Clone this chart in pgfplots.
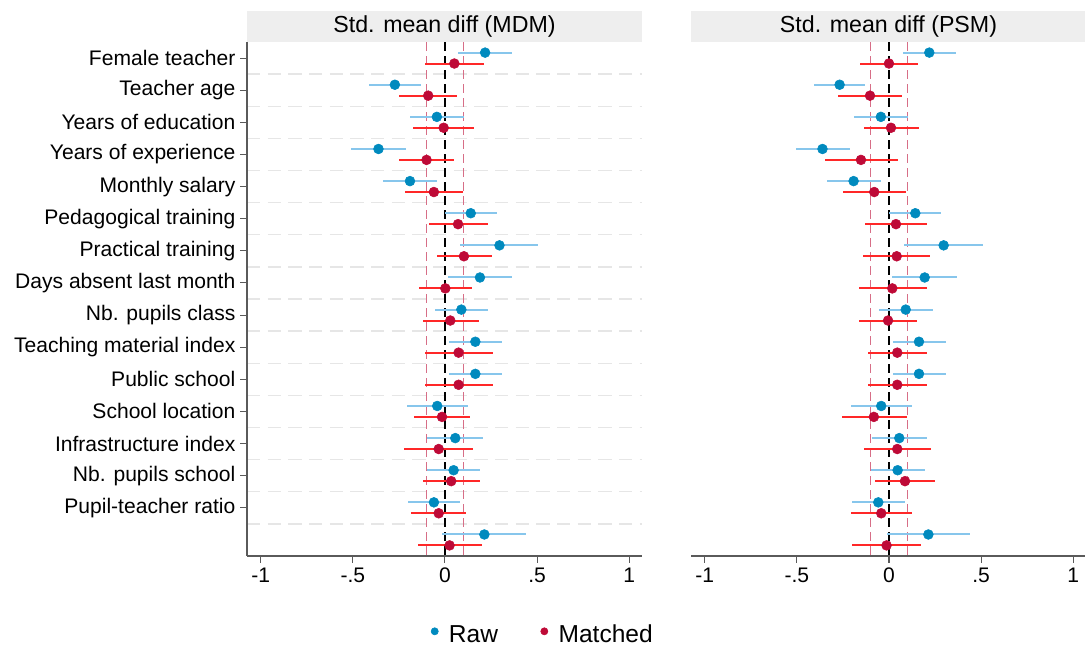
\documentclass[border=0pt]{standalone}
\usepackage{fontspec}
\setmainfont{Liberation Sans}
\usepackage{pgfplots}
\usepackage{pgfplotstable}
\pgfplotsset{compat=1.18}

\definecolor{rawdot}{RGB}{0,138,190}
\definecolor{rawci}{RGB}{135,198,236}
\definecolor{matdot}{RGB}{190,10,55}
\definecolor{matci}{RGB}{255,40,40}
\definecolor{refred}{RGB}{215,110,135}
\definecolor{sepgray}{RGB}{230,230,230}
\definecolor{stripgray}{RGB}{238,238,238}
\definecolor{axisgray}{RGB}{90,90,90}

% row, raw mean/lo/hi, matched mean/lo/hi
\pgfplotstableread{
row rm rlo rhi mm mlo mhi
1 0.218 0.073 0.363 0.051 -0.109 0.214
2 -0.272 -0.412 -0.132 -0.091 -0.248 0.067
3 -0.044 -0.190 0.103 -0.007 -0.172 0.158
4 -0.361 -0.508 -0.214 -0.100 -0.248 0.049
5 -0.190 -0.335 -0.045 -0.060 -0.216 0.100
6 0.140 0.000 0.283 0.071 -0.089 0.232
7 0.296 0.082 0.506 0.103 -0.045 0.254
8 0.190 0.018 0.366 0.002 -0.140 0.145
9 0.089 -0.056 0.236 0.029 -0.121 0.185
10 0.165 0.024 0.308 0.074 -0.107 0.259
11 0.165 0.024 0.308 0.074 -0.107 0.259
12 -0.042 -0.205 0.123 -0.016 -0.170 0.136
13 0.056 -0.096 0.209 -0.034 -0.221 0.150
14 0.047 -0.100 0.192 0.034 -0.118 0.189
15 -0.060 -0.203 0.083 -0.034 -0.185 0.112
16 0.214 -0.015 0.441 0.025 -0.147 0.201
}\mdm

\pgfplotstableread{
row rm rlo rhi mm mlo mhi
1 0.219 0.074 0.364 0.000 -0.156 0.160
2 -0.268 -0.408 -0.129 -0.103 -0.276 0.071
3 -0.044 -0.189 0.102 0.011 -0.138 0.161
4 -0.361 -0.506 -0.214 -0.152 -0.350 0.047
5 -0.192 -0.334 -0.044 -0.080 -0.252 0.091
6 0.143 0.000 0.283 0.038 -0.129 0.209
7 0.297 0.083 0.508 0.042 -0.141 0.223
8 0.194 0.018 0.368 0.018 -0.165 0.205
9 0.091 -0.054 0.238 -0.005 -0.161 0.154
10 0.163 0.024 0.308 0.045 -0.116 0.209
11 0.163 0.024 0.308 0.045 -0.116 0.209
12 -0.042 -0.205 0.123 -0.082 -0.257 0.098
13 0.056 -0.094 0.209 0.045 -0.138 0.230
14 0.047 -0.100 0.194 0.087 -0.076 0.248
15 -0.058 -0.201 0.085 -0.042 -0.207 0.125
16 0.214 -0.011 0.442 -0.013 -0.201 0.172
}\psm

\newcommand{\lblfont}{\fontsize{15.8}{18}\selectfont}
\newcommand{\ttlfont}{\fontsize{17.4}{20}\selectfont}
\newcommand{\lgdfont}{\fontsize{18.4}{21}\selectfont}

\pgfplotsset{
  panel/.style={
    width=296.25pt, height=385.5pt, scale only axis,
    xmin=-1.075, xmax=1.07, ymin=0.5, ymax=16.5, y dir=reverse,
    axis x line*=bottom,
    axis line style={-, draw=axisgray, line width=1pt},
    xtick={-1,-0.5,0,0.5,1},
    xticklabels={-1,-.5,0,.5,1},
    tick align=outside, major tick length=5.2pt,
    tick style={draw=axisgray, line width=0.8pt},
    ticklabel style={font=\lblfont},
    minor ytick={1.5,2.5,...,15.5},
    minor tick length=0pt,
    yminorgrids=true,
    minor grid style={draw=sepgray, line width=1.1pt, dash pattern=on 10pt off 5.5pt},
    clip=false,
  },
  rawplot/.style={only marks, mark=*, mark size=3.7pt, color=rawdot, forget plot,
    error bars/.cd, x dir=both, x explicit, error mark=none,
    error bar style={line width=1.5pt, rawci}},
  matplot/.style={only marks, mark=*, mark size=3.7pt, color=matdot, forget plot,
    error bars/.cd, x dir=both, x explicit, error mark=none,
    error bar style={line width=1.5pt, matci}},
}

\newcommand{\drawpanel}[1]{%
  \draw[refred, line width=0.9pt, dash pattern=on 7pt off 3.5pt] (axis cs:-0.1,0.5) -- (axis cs:-0.1,16.5);
  \draw[refred, line width=0.9pt, dash pattern=on 7pt off 3.5pt] (axis cs:0.1,0.5) -- (axis cs:0.1,16.5);
  \draw[black, line width=1.3pt, dash pattern=on 7pt off 3.5pt] (axis cs:0,0.5) -- (axis cs:0,16.5);
  \addplot[rawplot] table[x=rm, y expr=\thisrow{row}-0.17,
    x error minus expr=\thisrow{rm}-\thisrow{rlo},
    x error plus expr=\thisrow{rhi}-\thisrow{rm}] {#1};
  \addplot[matplot] table[x=mm, y expr=\thisrow{row}+0.17,
    x error minus expr=\thisrow{mm}-\thisrow{mlo},
    x error plus expr=\thisrow{mhi}-\thisrow{mm}] {#1};
}

\begin{document}
\begin{tikzpicture}
\path[use as bounding box] (0,0) rectangle (813.75pt,487.5pt);

\begin{axis}[panel, name=L,
    at={(185.25pt,70.5pt)}, anchor=south west,
    axis y line*=left,
    ytick={1,...,15},
    yticklabels={Female teacher, Teacher age, Years of education,
      Years of experience, Monthly salary, Pedagogical training,
      Practical training, Days absent last month, Nb. pupils class,
      Teaching material index, Public school, School location,
      Infrastructure index, Nb. pupils school, Pupil-teacher ratio},
    legend style={at={(axis description cs:0.75,-0.153)}, anchor=center,
      draw=none, fill=none, legend columns=2, font=\lgdfont,
      /tikz/every odd column/.append style={column sep=6pt},
      /tikz/every even column/.append style={column sep=30pt}},
    legend image code/.code={\draw[#1] plot coordinates {(0pt,2.5pt)};},
  ]
  \drawpanel{\mdm}
  \addlegendimage{only marks, mark=*, mark size=2.7pt, color=rawdot}
  \addlegendentry{Raw}
  \addlegendimage{only marks, mark=*, mark size=2.7pt, color=matdot}
  \addlegendentry{Matched}
\end{axis}
\fill[stripgray] (L.north west) rectangle ([yshift=23.25pt]L.north east);
\node[font=\ttlfont, inner sep=0pt] at ([yshift=11.6pt]L.north) {Std. mean diff (MDM)};

\begin{axis}[panel, name=R,
    at={(518.25pt,70.5pt)}, anchor=south west,
    axis y line*=left,
    y axis line style={draw=none},
    ytick=\empty,
  ]
  \drawpanel{\psm}
\end{axis}
\fill[stripgray] (R.north west) rectangle ([yshift=23.25pt]R.north east);
\node[font=\ttlfont, inner sep=0pt] at ([yshift=11.6pt]R.north) {Std. mean diff (PSM)};
\end{tikzpicture}
\end{document}
